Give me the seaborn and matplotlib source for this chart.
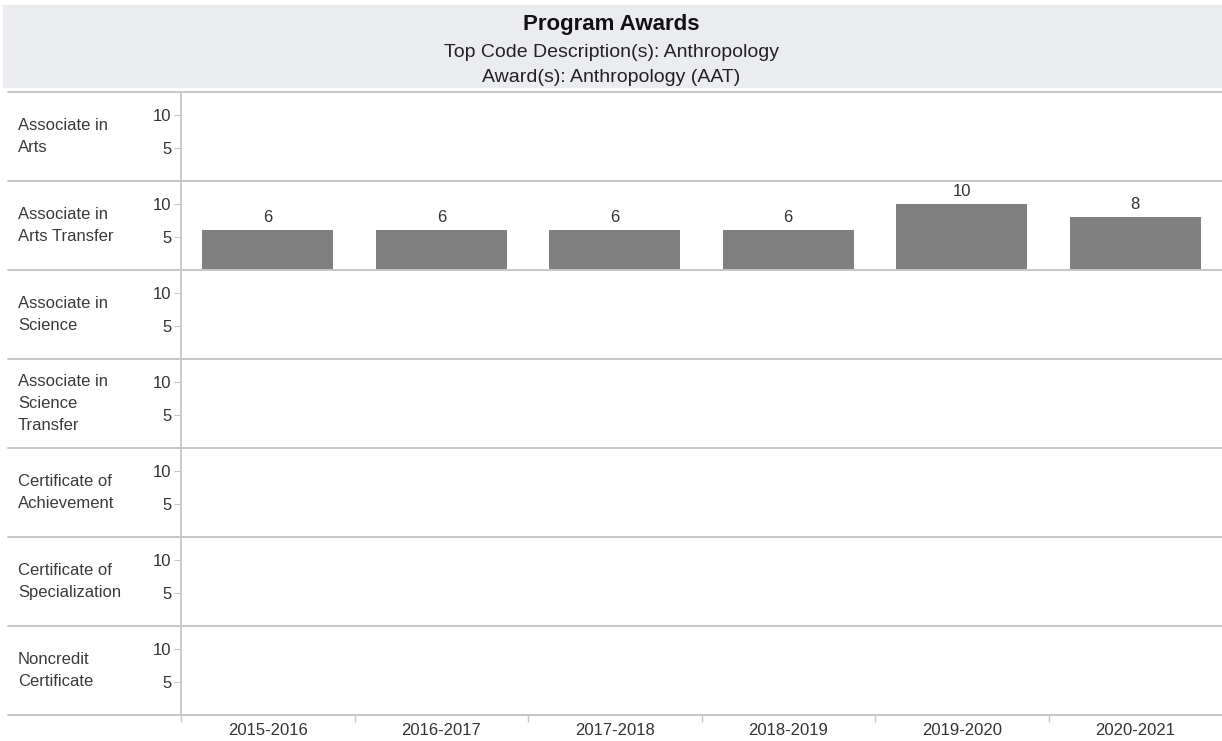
import pandas as pd
import matplotlib.pyplot as plt
import seaborn as sns
from matplotlib.lines import Line2D
from matplotlib.patches import Rectangle

# Données
years = ['2015-2016', '2016-2017', '2017-2018', '2018-2019', '2019-2020', '2020-2021']
awards = ['Associate in\nArts', 'Associate in\nArts Transfer', 'Associate in\nScience',
          'Associate in\nScience\nTransfer', 'Certificate of\nAchievement',
          'Certificate of\nSpecialization', 'Noncredit\nCertificate']
aat_counts = [6, 6, 6, 6, 10, 8]
y_ticks = [5, 10]

title = 'Program Awards'
subtitle_1 = 'Top Code Description(s): Anthropology'
subtitle_2 = 'Award(s): Anthropology (AAT)'

rows = []
for a in awards:
    for y, c in zip(years, aat_counts):
        rows.append({'award': a, 'year': y,
                     'count': c if a == 'Associate in\nArts Transfer' else 0})
df = pd.DataFrame(rows)

sns.set_style('white')
plt.rcParams['font.family'] = ['Liberation Sans', 'DejaVu Sans']

W, H = 1222, 741
fig = plt.figure(figsize=(W / 100, H / 100), dpi=100)

grey_line = '#c6c6c6'
text_col = '#333333'

# Bandeau du titre
fig.add_artist(Rectangle((3 / W, 1 - 87 / H), 1 - 3 / W, 82 / H,
                         transform=fig.transFigure, color='#ebecf0', zorder=0))
fig.text(0.5, 1 - 30 / H, title, ha='center', va='baseline', fontsize=16,
         fontweight='bold', color='#111111')
fig.text(0.5, 1 - 57 / H, subtitle_1, ha='center', va='baseline', fontsize=14,
         color='#222222')
fig.text(0.5, 1 - 82 / H, subtitle_2, ha='center', va='baseline', fontsize=14,
         color='#222222')

top0 = 92
row_h = 89
left = 181

for i, a in enumerate(awards):
    top = top0 + i * row_h
    ax = fig.add_axes([left / W, 1 - (top + row_h) / H, 1 - left / W, row_h / H])
    ax.set_facecolor('none')
    sub = df[df.award == a]
    sns.barplot(data=sub, x='year', y='count', order=years, color='#808080',
                saturation=1, width=0.755, ax=ax, errorbar=None)
    for bar in ax.patches:
        bar.set_linewidth(0)
    labels = [str(int(v)) if v > 0 else '' for v in sub['count']]
    ax.bar_label(ax.containers[0], labels=labels, padding=4, fontsize=12,
                 color=text_col)
    ax.set_xlim(-0.5, 5.5)
    ax.set_ylim(0, 13.5)
    ax.set_yticks(y_ticks)
    ax.set_xlabel('')
    ax.set_ylabel('')
    for s in ['top', 'right', 'bottom']:
        ax.spines[s].set_visible(False)
    ax.spines['left'].set_color(grey_line)
    ax.spines['left'].set_linewidth(1.3)
    ax.tick_params(axis='y', length=5, color=grey_line, labelsize=12,
                   labelcolor=text_col, pad=2, left=True)
    if i < len(awards) - 1:
        ax.set_xticks([])
    else:
        ax.set_xticks(range(len(years)))
        ax.set_xticklabels(years)
        ax.set_xticks([k - 0.5 for k in range(len(years))], minor=True)
        ax.tick_params(axis='x', which='major', length=0, labelsize=12,
                       labelcolor=text_col, pad=6)
        ax.tick_params(axis='x', which='minor', length=5, color=grey_line,
                       width=1, bottom=True)
    fig.text(18 / W, 1 - (top + row_h / 2) / H, a, ha='left', va='center',
             fontsize=12, color='#3a3a3a', linespacing=1.55)

# Lignes de séparation entre les lignes
for i in range(len(awards) + 1):
    y = 1 - (top0 + i * row_h) / H
    fig.add_artist(Line2D([8 / W, 1], [y, y], transform=fig.transFigure,
                          color=grey_line, linewidth=1.4))

fig.savefig('out.png', dpi=100)
